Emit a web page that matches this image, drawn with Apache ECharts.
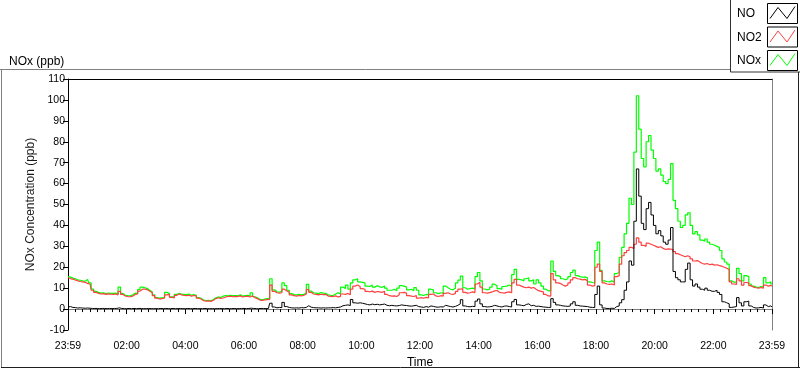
<!DOCTYPE html>
<html>
<head>
<meta charset="utf-8">
<script src="https://cdn.jsdelivr.net/npm/echarts@6/dist/echarts.min.js"></script>
<style>
html,body{margin:0;padding:0;background:#fff;}
#chart{width:800px;height:369px;}
</style>
</head>
<body>
<div id="chart"></div>
<script>
// sampling step of the series (minutes) — every value below is one 5-minute reading, 23:59 -> 23:59
const STEP_MIN = 5;
const seriesNames = ['NO', 'NO2', 'NOx'];
const seriesColors = ['#000000', '#ff4040', '#00ff00'];
const xTickLabels = ['23:59','02:00','04:00','06:00','08:00','10:00','12:00','14:00','16:00','18:00','20:00','22:00','23:59'];

const NOx = [
 15.5,15.3,14.8,14.5,14.0,13.8,13.5,13.3,14.2,12.5,9.5,8.5,
 8.0,7.6,7.8,7.4,7.7,7.5,7.5,7.6,7.3,10.5,7.5,6.6,
 6.4,6.3,6.8,7.6,7.5,9.4,10.5,10.2,9.8,9.0,8.2,6.8,
 5.5,5.2,5.4,5.6,8.0,7.4,5.9,5.7,7.0,7.6,7.1,7.0,
 6.9,7.2,6.6,6.9,6.6,5.5,5.1,4.3,4.1,4.2,4.0,4.6,
 5.4,5.8,5.5,6.2,6.5,6.3,6.6,6.4,6.5,6.4,6.8,6.2,
 6.4,6.6,6.3,7.8,5.9,5.4,4.6,4.4,4.8,5.0,5.2,14.5,
 9.2,8.3,8.1,8.5,12.5,11.2,9.0,7.4,6.9,6.8,7.0,6.8,
 7.0,7.8,11.8,8.6,7.8,7.6,7.4,7.9,7.6,7.5,6.8,6.6,
 6.5,7.2,7.8,7.2,10.5,9.8,11.5,9.5,12.5,14.0,14.5,13.0,
 12.8,12.5,11.0,10.8,11.5,10.5,11.2,10.6,10.4,11.0,10.0,9.0,
 9.0,9.5,8.8,10.0,11.2,11.0,10.5,9.2,9.5,8.8,10.3,9.0,
 6.8,6.5,7.0,6.8,9.5,9.2,7.8,7.4,7.8,7.5,11.0,10.2,
 9.5,9.2,10.0,12.5,13.8,15.8,10.2,9.5,9.8,10.0,9.6,15.5,
 17.5,13.5,9.6,9.2,9.5,10.5,11.9,11.2,9.8,9.5,10.8,11.0,
 11.5,11.0,16.5,19.0,14.2,14.0,13.5,14.5,15.0,13.5,14.0,12.0,
 14.0,12.5,11.0,9.5,8.8,8.6,23.0,18.0,16.0,15.5,14.5,14.0,
 14.5,15.5,17.5,18.6,16.0,15.5,15.2,15.4,15.0,13.0,12.7,12.5,
 28.0,32.0,18.5,13.5,13.2,13.0,13.5,12.8,17.0,17.5,24.7,29.5,
 36.0,41.0,53.0,50.0,75.0,102.0,86.0,72.0,68.0,80.0,83.0,76.0,
 72.0,66.0,67.0,64.0,61.0,60.0,62.0,69.5,52.0,48.0,42.0,39.0,
 40.0,45.0,46.0,40.0,36.0,37.0,35.5,33.0,32.5,33.5,32.0,31.0,
 30.5,30.0,29.5,28.0,24.0,22.5,21.5,13.5,12.8,13.0,19.5,17.0,
 13.5,16.0,15.5,12.0,11.0,10.5,10.3,10.8,10.5,15.0,12.5,13.0,12.0
];

const NO2 = [
 15.0,14.6,14.3,13.9,13.5,13.2,13.0,12.8,12.3,12.0,9.0,8.0,
 7.5,7.2,7.4,7.0,7.3,7.1,7.0,7.2,6.8,8.5,7.0,6.2,
 6.0,5.9,6.2,7.0,7.2,8.6,9.5,9.6,9.2,8.5,7.8,6.4,
 5.2,4.8,5.0,5.3,6.8,7.0,5.6,5.4,6.6,7.2,6.8,6.5,
 6.4,6.6,6.2,6.5,6.3,5.2,4.8,4.0,3.8,3.9,3.7,4.2,
 5.0,5.4,5.1,5.3,5.8,6.0,6.2,5.9,6.1,6.0,6.3,5.8,
 6.0,6.2,5.8,6.3,5.5,5.0,4.3,4.1,4.4,4.5,4.6,11.5,
 8.5,7.8,7.6,7.8,9.5,8.7,8.2,6.8,6.4,6.2,6.5,6.3,
 6.6,7.2,9.3,8.0,7.2,7.0,6.8,7.1,6.9,7.0,6.2,6.1,
 6.0,6.3,5.8,6.1,7.2,7.0,7.5,6.8,9.5,11.0,11.5,10.8,
 9.8,9.5,8.5,8.3,8.6,8.0,8.4,8.2,8.0,8.5,7.0,6.4,
 6.2,6.3,6.0,6.8,7.8,8.0,7.6,6.4,6.2,6.0,6.5,5.2,
 5.5,5.2,5.6,5.4,7.0,7.2,6.3,6.0,6.4,6.2,7.5,7.8,
 7.2,7.0,7.5,8.5,9.5,9.8,8.0,7.6,7.8,8.2,7.9,12.0,
 12.8,10.5,7.8,7.6,7.9,8.2,8.7,8.9,8.0,7.8,7.6,8.0,
 8.2,7.8,12.5,14.2,11.5,11.0,10.5,10.2,10.5,10.0,10.3,9.5,
 8.8,8.5,8.2,7.0,6.3,6.2,17.0,14.0,12.5,12.2,11.5,11.0,
 11.5,12.5,14.0,15.0,14.5,14.3,14.0,14.2,13.5,11.5,11.0,11.2,
 20.0,21.5,18.0,12.5,12.0,11.8,12.0,11.5,15.5,16.0,21.5,25.5,
 27.0,28.0,29.5,29.0,31.0,34.0,32.0,30.5,30.0,31.5,31.0,30.5,
 30.0,29.5,29.8,29.0,28.5,28.8,28.7,28.5,27.5,26.5,26.0,25.5,
 25.0,25.5,25.0,24.0,23.0,23.2,22.5,21.8,21.5,21.8,21.2,21.5,
 21.0,21.2,20.8,20.5,20.0,19.5,19.0,13.0,12.0,11.8,14.5,13.5,
 11.5,12.7,12.5,11.2,10.5,10.2,10.0,10.3,10.0,11.5,11.0,11.3,11.0
];

const NO = [
 1.0,1.2,0.8,0.7,0.5,0.6,0.5,0.4,0.5,0.4,0.3,0.3,
 0.3,0.2,0.3,0.3,0.2,0.3,0.2,0.3,0.3,0.6,0.3,0.2,
 0.2,0.3,0.2,0.3,0.2,0.3,0.3,0.2,0.2,0.3,0.2,0.2,
 0.2,0.2,0.3,0.2,0.3,0.2,0.2,0.3,0.2,0.2,0.3,0.2,
 0.2,0.3,0.2,0.2,0.3,0.2,0.2,0.2,0.3,0.2,0.2,0.2,
 0.2,0.2,0.3,0.2,0.2,0.3,0.2,0.2,0.3,0.2,0.2,0.3,
 0.3,0.2,0.3,0.4,0.3,0.2,0.2,0.3,0.3,0.2,0.3,2.8,
 1.0,0.6,0.8,0.7,3.2,1.2,0.8,0.6,0.5,0.6,0.5,0.7,
 0.6,0.8,1.6,0.9,0.7,0.6,0.6,0.5,0.6,0.5,0.6,0.6,
 0.7,0.6,0.8,1.0,1.6,1.8,2.0,1.7,4.6,3.0,2.8,3.0,
 2.8,2.5,2.2,2.0,2.4,2.1,2.3,2.0,2.2,2.4,1.8,1.6,
 1.8,1.6,1.5,1.7,2.0,1.8,1.7,1.5,1.4,1.6,1.8,1.2,
 1.0,0.8,1.2,0.9,1.5,1.3,1.0,0.9,1.1,1.0,1.8,1.5,
 1.2,1.0,1.3,1.8,2.5,4.5,1.5,1.2,1.1,1.3,1.2,3.8,
 4.8,2.5,1.2,1.0,1.1,1.3,1.8,1.5,1.2,1.0,1.4,1.5,
 1.2,1.0,3.5,4.6,2.0,1.8,1.6,2.2,2.5,1.6,1.8,1.3,
 1.4,1.2,1.0,0.9,0.8,0.8,5.0,3.2,2.0,1.8,1.5,1.4,
 1.3,1.5,2.5,3.5,1.8,1.5,1.4,1.3,1.2,0.9,0.8,0.7,
 7.0,11.0,2.0,0.5,0.3,0.3,0.4,0.3,1.2,1.5,3.0,4.5,
 9.0,13.0,23.0,21.0,42.0,67.0,54.0,41.0,38.0,48.0,51.0,45.0,
 40.0,36.0,37.5,35.0,32.0,31.0,33.0,39.0,18.0,15.0,14.0,13.0,
 13.0,19.0,22.0,14.0,11.0,12.0,10.5,9.5,9.0,10.0,9.0,8.5,
 8.5,9.0,8.0,7.0,3.5,3.0,2.5,0.8,1.0,1.2,5.5,3.0,
 1.5,3.5,3.8,1.5,0.8,0.5,0.6,0.8,0.5,2.0,1.2,1.5,1.0
];

const valuesByName = { NO: NO, NO2: NO2, NOx: NOx };
function pairs(arr){ return arr.map((v, i) => [i * STEP_MIN, v]); }

const FONT = 'Liberation Sans';
const chart = echarts.init(document.getElementById('chart'), null, {renderer: 'canvas'});

// draw order: NOx behind, NO2, NO on top
const drawOrder = ['NOx', 'NO2', 'NO'];
const series = drawOrder.map(name => ({
  name: name,
  type: 'line',
  step: 'middle',
  data: pairs(valuesByName[name]),
  showSymbol: false,
  symbol: 'none',
  lineStyle: { width: name === 'NO' ? 1 : 1.2, color: seriesColors[seriesNames.indexOf(name)] },
  itemStyle: { color: seriesColors[seriesNames.indexOf(name)] },
  xAxisIndex: 0, yAxisIndex: 0,
  animation: false
}));

// legend (LabVIEW style plot legend) drawn with graphic elements
const legendEls = [];
legendEls.push({ type: 'rect', shape: { x: 730.5, y: -1, width: 71, height: 73 }, style: { fill: '#fff', stroke: '#333', lineWidth: 1 }, z: 10 });
seriesNames.forEach((name, i) => {
  const top = 3.5 + i * 23.5;
  legendEls.push({ type: 'text', style: { text: name, x: 737, y: top + 10.5, fill: '#000', font: '12px ' + FONT, textVerticalAlign: 'middle' }, z: 11 });
  legendEls.push({ type: 'rect', shape: { x: 767.5, y: top, width: 30, height: 20 }, style: { fill: '#fff', stroke: '#000', lineWidth: 1 }, z: 11 });
  legendEls.push({ type: 'polyline', shape: { points: [[770, top + 15], [778, top + 4], [787, top + 15], [795, top + 3]] }, style: { stroke: seriesColors[i], lineWidth: 1, fill: null }, z: 12 });
});

chart.setOption({
  animation: false,
  backgroundColor: '#ffffff',
  textStyle: { fontFamily: FONT },
  title: {
    text: 'NOx (ppb)', left: 4, top: 51,
    textStyle: { fontSize: 12, fontWeight: 'normal', color: '#000', fontFamily: FONT }
  },
  grid: { left: 68, right: 28, top: 79, bottom: 39, containLabel: false, outerBoundsMode: 'none' },
  xAxis: [{
    type: 'value', min: 0, max: 1440, interval: 120,
    name: 'Time', nameLocation: 'middle', nameGap: 25,
    nameTextStyle: { fontSize: 12, color: '#000', fontFamily: FONT },
    axisLine: { show: true, lineStyle: { color: '#808080', width: 1 } },
    axisTick: { show: true, length: 5, lineStyle: { color: '#000' } },
    minorTick: { show: true, splitNumber: 8, length: 3, lineStyle: { color: '#000' } },
    splitLine: { show: false },
    axisLabel: {
      show: true, showMinLabel: true, showMaxLabel: true, margin: 11,
      fontSize: 10.5, color: '#000', fontFamily: FONT,
      formatter: v => xTickLabels[Math.round(v / 120)]
    }
  }, {
    type: 'value', min: 0, max: 1440, position: 'top',
    axisLine: { show: true, onZero: false, lineStyle: { color: '#000', width: 1 } },
    axisTick: { show: false }, axisLabel: { show: false }, splitLine: { show: false }
  }],
  yAxis: [{
    type: 'value', min: -10, max: 110, interval: 10,
    name: 'NOx Concentration (ppb)', nameLocation: 'middle', nameGap: 31, nameRotate: 90,
    nameTextStyle: { fontSize: 12, color: '#1a1a1a', fontFamily: FONT },
    axisLine: { show: true, onZero: false, lineStyle: { color: '#000', width: 1 } },
    axisTick: { show: true, length: 5, lineStyle: { color: '#000' } },
    splitLine: { show: false },
    axisLabel: { show: true, margin: 3, fontSize: 10.5, color: '#000', fontFamily: FONT }
  }, {
    type: 'value', min: -10, max: 110, position: 'right',
    axisLine: { show: true, onZero: false, lineStyle: { color: '#808080', width: 1 } },
    axisTick: { show: false }, axisLabel: { show: false }, splitLine: { show: false }
  }],
  series: series,
  graphic: [
    // outer panel frame (bevel look)
    { type: 'line', shape: { x1: 0, y1: 69.5, x2: 731, y2: 69.5 }, style: { stroke: '#808080', lineWidth: 1 }, z: 5 },
    { type: 'line', shape: { x1: 1.5, y1: 69.5, x2: 1.5, y2: 368 }, style: { stroke: '#808080', lineWidth: 1 }, z: 5 },
    { type: 'line', shape: { x1: 1, y1: 367.5, x2: 800, y2: 367.5 }, style: { stroke: '#202020', lineWidth: 1 }, z: 5 },
    { type: 'line', shape: { x1: 798.5, y1: 72, x2: 798.5, y2: 368 }, style: { stroke: '#202020', lineWidth: 1 }, z: 5 }
  ].concat(legendEls)
});
</script>
</body>
</html>
